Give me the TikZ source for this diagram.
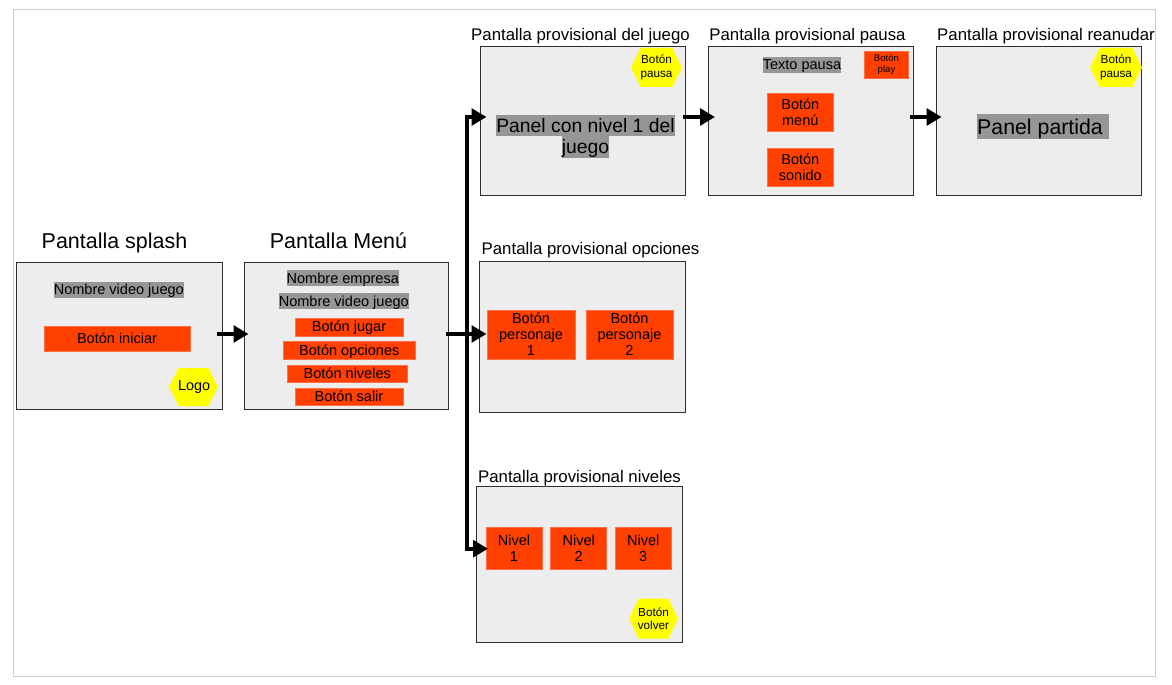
\documentclass[tikz,border=0pt]{standalone}
\usepackage{fontspec}
\setmainfont{Liberation Sans}
\usetikzlibrary{arrows.meta}
\definecolor{screenfill}{HTML}{EDEDED}
\definecolor{screenline}{HTML}{2E2E2E}
\definecolor{framegray}{HTML}{CCCCCC}
\definecolor{hlgray}{HTML}{969696}
\definecolor{btnred}{HTML}{FF4000}
\definecolor{btnedge}{HTML}{FF7048}
\definecolor{hexyellow}{HTML}{FFFF00}
\newcommand{\hlbox}[1]{{\setlength{\fboxsep}{0pt}\colorbox{hlgray}{\rule[-0.2\baselineskip]{0pt}{\baselineskip}#1}}}
\tikzset{
  wh/.style 2 args={minimum width=#1*0.75pt, minimum height=#2*0.75pt},
  screen/.style={draw=screenline, line width=0.75pt, fill=screenfill, inner sep=0pt, outer sep=0pt},
  btn/.style={draw=btnedge, line width=0.5pt, fill=btnred, inner sep=0pt, outer sep=0pt, align=center,
    font=\fontsize{10.9}{12}\selectfont},
  btnline/.style={btn, text height=9pt, text depth=2pt},
  hex/.style={inner sep=0pt, outer sep=0pt, align=center, text=black,
    path picture={\fill[hexyellow]
      ([xshift=7.2pt]path picture bounding box.north west) --
      ([xshift=-7.2pt]path picture bounding box.north east) --
      (path picture bounding box.east) --
      ([xshift=-7.2pt]path picture bounding box.south east) --
      ([xshift=7.2pt]path picture bounding box.south west) --
      (path picture bounding box.west) -- cycle;}},
  hexsmall/.style={hex, font=\fontsize{8.8}{10}\selectfont},
  title/.style={anchor=base, inner sep=0pt, font=\fontsize{12.6}{14}\selectfont},
  bigtitle/.style={anchor=base, inner sep=0pt, font=\fontsize{16.1}{18}\selectfont},
  hl/.style={inner sep=0pt, outer sep=0pt, align=center, font=\fontsize{10.9}{12}\selectfont},
  flow/.style={line width=3pt, -{Triangle[length=11.25pt,width=12.5pt]}},
}
\begin{document}
\begin{tikzpicture}[x=0.75pt,y=-0.75pt]
\useasboundingbox (0,0) rectangle (1172,685);
\draw[framegray, line width=0.75pt] (13.5,10) rectangle (1155,676);

% screens
\node[screen, wh={205.6}{147}] (splash) at (119.5,335.5) {};
\node[screen, wh={204.4}{147}] (menu) at (346.5,335.5) {};
\node[screen, wh={205.4}{149.4}] (juego) at (583,121) {};
\node[screen, wh={205.7}{149.4}] (pausa) at (810.85,121) {};
\node[screen, wh={205.3}{149.4}] (reanudar) at (1038.65,121) {};
\node[screen, wh={206}{150.5}] (opciones) at (582,336.75) {};
\node[screen, wh={205.6}{156}] (niveles) at (579.5,564.7) {};

% titles
\node[bigtitle] (tsplash) at (114.5,248.6) {Pantalla splash};
\node[bigtitle] (tmenu) at (338.5,248.6) {Pantalla Menú};
\node[title] (tjuego) at (580.5,40.6) {Pantalla provisional del juego};
\node[title] (tpausa) at (807.5,40.6) {Pantalla provisional pausa};
\node[title] (treanudar) at (1046,40.6) {Pantalla provisional reanudar};
\node[title] (topciones) at (590.5,254.3) {Pantalla provisional opciones};
\node[title] (tniveles) at (579.5,482.3) {Pantalla provisional niveles};

% splash content
\node[hl] (s1) at (118.8,290) {\hlbox{Nombre video juego}};
\node[btnline, wh={146}{25.7}] (s2) at (117,338.8) {Botón iniciar};
\node[hex, wh={49}{38}, font=\fontsize{10.8}{12}\selectfont] (slogo) at (193.5,387) {\hspace{1pt}Logo};

% menu content
\node[hl] (m1) at (342.8,278.4) {\hlbox{Nombre empresa}};
\node[hl] (m2) at (343.8,301.4) {\hlbox{Nombre video juego}};
\node[btnline, wh={108}{18}] (m3) at (349,327) {Botón jugar};
\node[btnline, wh={132.5}{17.5}] (m4) at (349.3,350.4) {Botón opciones};
\node[btnline, wh={120.5}{17.7}] (m5) at (347.3,373.8) {Botón niveles};
\node[btnline, wh={108}{17.7}] (m6) at (349,396.9) {Botón salir};

% juego content
\node[hexsmall, wh={51}{39}] (jhex) at (656.5,67.5) {Botón\\pausa};
\node[hl, font=\fontsize{14.5}{16.2}\selectfont] (jpanel) at (585.5,136.4) {\hlbox{Panel con nivel 1 del}\\\hlbox{juego}};

% pausa content
\node[hl] (p1) at (802,65) {\hlbox{Texto pausa}};
\node[btn, wh={44.4}{27.3}, font=\fontsize{7.2}{8.4}\selectfont] (p2) at (886.5,64.7) {Botón\\play};
\node[btn, wh={66.7}{38}] (p3) at (800.3,112.7) {Botón\\menú};
\node[btn, wh={66.7}{38}] (p4) at (800.3,167) {Botón\\sonido};

% reanudar content
\node[hexsmall, wh={52}{39}] (rhex) at (1116,67.5) {Botón\\pausa};
\node[hl, font=\fontsize{16}{18.75}\selectfont] (rpanel) at (1043,126.5) {\hlbox{Panel partida\ }};

% opciones content
\node[btn, wh={88}{49}] (o1) at (531,334.5) {Botón\\personaje\\1};
\node[btn, wh={87}{49}] (o2) at (629.5,334.5) {Botón\\personaje\\2};

% niveles content
\node[btn, wh={56}{42.4}] (n1) at (514,548.5) {Nivel\\1};
\node[btn, wh={56}{42.4}] (n2) at (578.7,548.5) {Nivel\\2};
\node[btn, wh={56.3}{42.4}] (n3) at (643.2,548.5) {Nivel\\3};
\node[hexsmall, wh={49}{40}] (nhex) at (653.5,618.7) {Botón\\volver};

% connectors
\coordinate (trunk) at (467,334);
\draw[flow] ([shift={(-5.3,-1.5)}]splash.east) -- ([shift={(4.2,-1.5)}]menu.west);
\draw[flow] ([shift={(-2.7,-1.5)}]menu.east) -- (trunk) -- ([shift={(7.5,-2.75)}]opciones.west);
\draw[flow, line cap=butt] (trunk) |- ([shift={(6.2,-4)}]juego.west);
\draw[flow, line cap=butt] (trunk) |- ([shift={(11.3,-16)}]niveles.west);
\draw[flow] ([shift={(-2.7,-4)}]juego.east) -- ([shift={(7,-4)}]pausa.west);
\draw[flow] ([shift={(-3.7,-4)}]pausa.east) -- ([shift={(5.6,-4)}]reanudar.west);
\end{tikzpicture}
\end{document}
